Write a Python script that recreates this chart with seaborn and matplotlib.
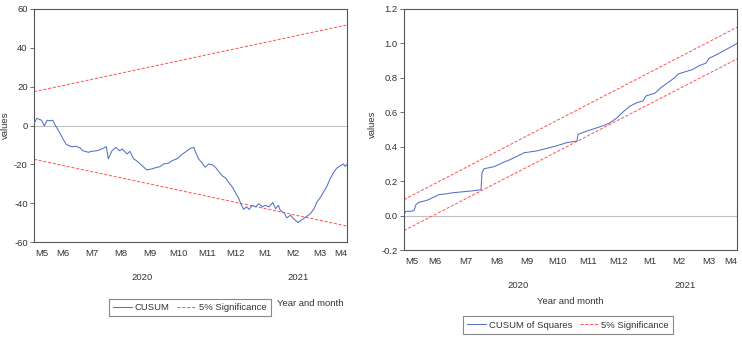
import numpy as np
import pandas as pd
import matplotlib
matplotlib.use("Agg")
import matplotlib.pyplot as plt
import matplotlib.dates as mdates
from matplotlib.lines import Line2D
from matplotlib.transforms import blended_transform_factory
import seaborn as sns

# ---------------- data ----------------
cusum_dates = ["2020-05-16", "2020-05-19", "2020-05-24", "2020-05-27", "2020-05-30", "2020-06-02",
               "2020-06-05", "2020-06-08", "2020-06-12", "2020-06-16", "2020-06-19", "2020-06-22",
               "2020-06-25", "2020-06-30", "2020-07-04", "2020-07-07", "2020-07-13", "2020-07-16",
               "2020-07-22", "2020-07-27", "2020-08-01", "2020-08-03", "2020-08-07", "2020-08-11",
               "2020-08-15", "2020-08-18", "2020-08-23", "2020-08-26", "2020-08-30", "2020-09-02",
               "2020-09-08", "2020-09-13", "2020-09-18", "2020-09-24", "2020-09-27", "2020-10-01",
               "2020-10-06", "2020-10-10", "2020-10-15", "2020-10-21", "2020-10-26", "2020-10-29",
               "2020-11-02", "2020-11-04", "2020-11-07", "2020-11-11", "2020-11-14", "2020-11-18",
               "2020-11-22", "2020-11-25", "2020-11-29", "2020-12-02", "2020-12-06", "2020-12-09",
               "2020-12-13", "2020-12-16", "2020-12-20", "2020-12-22", "2020-12-25", "2020-12-28",
               "2020-12-31", "2021-01-03", "2021-01-07", "2021-01-10", "2021-01-14", "2021-01-17",
               "2021-01-21", "2021-01-25", "2021-01-28", "2021-01-31", "2021-02-02", "2021-02-06",
               "2021-02-09", "2021-02-13", "2021-02-16", "2021-02-21", "2021-02-24", "2021-02-27",
               "2021-03-03", "2021-03-06", "2021-03-10", "2021-03-13", "2021-03-17", "2021-03-20",
               "2021-03-24", "2021-03-27", "2021-03-31", "2021-04-03", "2021-04-07", "2021-04-10",
               "2021-04-12", "2021-04-14"]
cusum_values = [1.0, 3.7, 2.7, -0.2, 2.7, 2.4,
                2.7, -0.2, -3.4, -7.0, -9.6, -10.4,
                -10.9, -10.7, -11.6, -13.0, -13.8, -13.3,
                -13.0, -12.1, -10.9, -17.2, -13.0, -11.3,
                -13.0, -12.1, -14.7, -13.3, -17.2, -18.1,
                -20.7, -22.9, -22.4, -21.5, -21.2, -19.8,
                -19.4, -18.1, -17.2, -14.7, -13.0, -11.8,
                -11.3, -13.8, -17.2, -19.3, -21.5, -19.8,
                -20.3, -21.5, -24.0, -25.8, -27.1, -29.2,
                -31.7, -34.3, -37.7, -40.3, -43.2, -41.9,
                -43.2, -41.1, -41.9, -40.3, -41.9, -41.1,
                -41.9, -39.7, -42.8, -41.1, -43.7, -44.9,
                -47.6, -46.2, -47.9, -50.0, -48.8, -47.9,
                -46.5, -45.4, -42.8, -39.4, -36.8, -34.3,
                -30.9, -27.5, -24.0, -22.0, -20.7, -19.8,
                -21.0, -20.0]
cusum_band_start = 17.4
cusum_band_end = 51.8

cusumsq_dates = ["2020-05-16", "2020-05-18", "2020-05-23", "2020-05-26", "2020-05-28", "2020-05-31",
                 "2020-06-05", "2020-06-10", "2020-06-13", "2020-06-17", "2020-06-20", "2020-06-27",
                 "2020-07-03", "2020-07-10", "2020-07-17", "2020-07-24", "2020-08-01", "2020-08-02",
                 "2020-08-04", "2020-08-09", "2020-08-14", "2020-08-19", "2020-08-24", "2020-08-29",
                 "2020-09-03", "2020-09-08", "2020-09-13", "2020-09-18", "2020-09-25", "2020-10-05",
                 "2020-10-15", "2020-10-26", "2020-11-05", "2020-11-06", "2020-11-15", "2020-11-25",
                 "2020-12-02", "2020-12-08", "2020-12-15", "2020-12-22", "2020-12-28", "2021-01-04",
                 "2021-01-10", "2021-01-13", "2021-01-22", "2021-01-28", "2021-02-04", "2021-02-11",
                 "2021-02-14", "2021-02-21", "2021-02-28", "2021-03-07", "2021-03-14", "2021-03-17",
                 "2021-03-24", "2021-04-01", "2021-04-07", "2021-04-14"]
cusumsq_values = [0.006, 0.025, 0.025, 0.029, 0.064, 0.078,
                  0.084, 0.093, 0.103, 0.112, 0.122, 0.126,
                  0.132, 0.136, 0.140, 0.144, 0.150, 0.249,
                  0.272, 0.278, 0.284, 0.297, 0.311, 0.322,
                  0.336, 0.350, 0.365, 0.369, 0.375, 0.389,
                  0.404, 0.424, 0.433, 0.472, 0.491, 0.510,
                  0.524, 0.539, 0.568, 0.607, 0.636, 0.656,
                  0.666, 0.695, 0.711, 0.744, 0.773, 0.802,
                  0.822, 0.835, 0.847, 0.870, 0.886, 0.913,
                  0.933, 0.958, 0.977, 1.000]
cusumsq_lower = [-0.087, 0.910]
cusumsq_upper = [0.093, 1.094]

month_labels = ["M5", "M6", "M7", "M8", "M9", "M10", "M11", "M12", "M1", "M2", "M3", "M4"]
year_labels = ["2020", "2021"]

# ---------------- style ----------------
sns.set_theme(style="white")
plt.rcParams["font.family"] = ["Liberation Sans", "DejaVu Sans"]
plt.rcParams["axes.unicode_minus"] = False

BLUE = "#5470C6"
RED = "#FF5A5A"
GRAY = "#C0C0C0"
SPINE = "#555555"
TXT = "#333333"
FS = 6.8

W, H = 742, 338
fig = plt.figure(figsize=(W / 100, H / 100), dpi=100)
fig.patch.set_facecolor("white")


def ax_at(l, r, t, b):
    return fig.add_axes([l / W, 1 - b / H, (r - l) / W, (b - t) / H])


ax1 = ax_at(34, 347, 9, 242)
ax2 = ax_at(404, 737, 9, 250)

df1 = pd.DataFrame({"date": pd.to_datetime(cusum_dates), "value": cusum_values})
df2 = pd.DataFrame({"date": pd.to_datetime(cusumsq_dates), "value": cusumsq_values})

d0 = df1["date"].iloc[0]
d1 = df1["date"].iloc[-1]

band1 = pd.DataFrame({"date": [d0, d1],
                      "upper": [cusum_band_start, cusum_band_end],
                      "lower": [-cusum_band_start, -cusum_band_end]})
band2 = pd.DataFrame({"date": [d0, d1], "upper": cusumsq_upper, "lower": cusumsq_lower})

dash = (3, 1.6)
for ax in (ax1, ax2):
    ax.axhline(0, color=GRAY, lw=0.8, zorder=1)

sns.lineplot(data=df1, x="date", y="value", ax=ax1, color=BLUE, lw=0.75, zorder=3)
sns.lineplot(data=band1, x="date", y="upper", ax=ax1, color=RED, lw=0.75, zorder=2).lines[-1].set_dashes(dash)
sns.lineplot(data=band1, x="date", y="lower", ax=ax1, color=RED, lw=0.75, zorder=2).lines[-1].set_dashes(dash)

sns.lineplot(data=df2, x="date", y="value", ax=ax2, color=BLUE, lw=0.75, zorder=3)
sns.lineplot(data=band2, x="date", y="upper", ax=ax2, color=RED, lw=0.75, zorder=2).lines[-1].set_dashes(dash)
sns.lineplot(data=band2, x="date", y="lower", ax=ax2, color=RED, lw=0.75, zorder=2).lines[-1].set_dashes(dash)

ax1.set_ylim(-60, 60)
ax1.set_yticks([-60, -40, -20, 0, 20, 40, 60])
ax1.set_yticklabels(["-60", "-40", "-20", "0", "20", "40", "60"])
ax2.set_ylim(-0.2, 1.2)
ax2.set_yticks([-0.2, 0.0, 0.2, 0.4, 0.6, 0.8, 1.0, 1.2])
ax2.set_yticklabels(["-0.2", "0.0", "0.2", "0.4", "0.6", "0.8", "1.0", "1.2"])

# month boundaries and label positions
bounds = pd.date_range("2020-06-01", "2021-04-01", freq="MS")
edges = [d0] + list(bounds) + [d1]
mids = [edges[i] + (edges[i + 1] - edges[i]) / 2 for i in range(len(edges) - 1)]

for ax, year_off in ((ax1, -35), (ax2, -36)):
    ax.set_xlim(d0, d1)
    ax.set_xticks(list(bounds))
    ax.set_xticklabels([""] * len(bounds))
    ax.set_xticks(mids, minor=True)
    ax.set_xticklabels(month_labels, minor=True)
    ax.tick_params(axis="x", which="major", direction="out", length=4, width=0.6, color=SPINE)
    ax.tick_params(axis="x", which="minor", length=0, pad=5, labelsize=FS, labelcolor=TXT)
    ax.tick_params(axis="y", which="major", direction="out", length=3, width=0.6, color=SPINE,
                   pad=1.5, labelsize=FS, labelcolor=TXT, left=True)
    for s in ax.spines.values():
        s.set_visible(True)
        s.set_color(SPINE)
        s.set_linewidth(0.8)
    ax.set_xlabel("")
    ax.set_ylabel("values", fontsize=FS, color=TXT)
    ax.grid(False)
    if ax.get_legend():
        ax.get_legend().remove()
    # year labels
    tr = blended_transform_factory(ax.transData, ax.transAxes)
    y_mid = [d0 + (pd.Timestamp("2020-12-31") - d0) / 2,
             pd.Timestamp("2021-01-01") + (d1 - pd.Timestamp("2021-01-01")) / 2]
    for lab, xm in zip(year_labels, y_mid):
        ax.annotate(lab, xy=(mdates.date2num(xm), 0), xycoords=tr, xytext=(0, year_off),
                    textcoords="offset pixels", ha="center", va="center", fontsize=FS,
                    color=TXT)

ax1.yaxis.set_label_coords(-24 / 313, 0.5)
ax2.yaxis.set_label_coords(-27 / 333, 0.52)

# x labels
fig.text(310 / W, 1 - 304 / H, "Year and month", ha="center", va="center", fontsize=FS, color=TXT)
fig.text(570 / W, 1 - 302 / H, "Year and month", ha="center", va="center", fontsize=FS, color=TXT)


# legends
def make_leg(lab1, cx, cy):
    h = [Line2D([], [], color=BLUE, lw=0.75),
         Line2D([], [], color=RED, lw=0.75, dashes=dash)]
    leg = fig.legend(h, [lab1, "5% Significance"], loc="center", bbox_to_anchor=(cx / W, 1 - cy / H),
                     ncol=2, fontsize=FS, frameon=True, fancybox=False, handlelength=2.0,
                     handletextpad=0.3, columnspacing=0.8, borderpad=0.45, borderaxespad=0,
                     labelcolor=TXT)
    fr = leg.get_frame()
    fr.set_edgecolor("#888888")
    fr.set_linewidth(0.8)
    fr.set_facecolor("white")
    fr.set_alpha(1)


make_leg("CUSUM", 190, 307.5)
make_leg("CUSUM of Squares", 568, 325)

fig.savefig("out.png", dpi=100, facecolor="white")
